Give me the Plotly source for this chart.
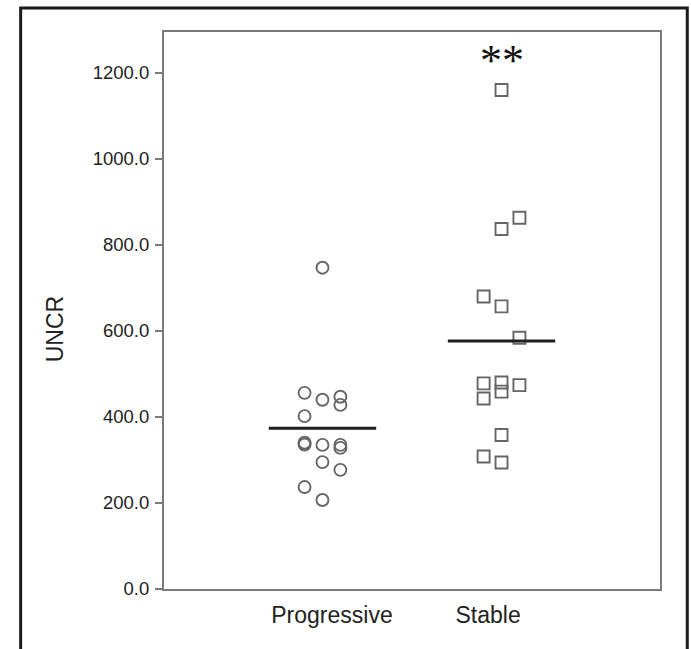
import numpy as np
import plotly.graph_objects as go

# Group labels
groups = ["Progressive", "Stable"]

# UNCR values per patient
progressive_uncr = [747, 456, 440, 447, 428, 402, 340, 336, 335, 335, 328, 295, 277, 237, 207]
stable_uncr = [1160, 837, 863, 680, 657, 584, 478, 480, 459, 474, 443, 358, 308, 294]

# Beeswarm column (-1 left, 0 centre, +1 right) for each point
progressive_slot = [0, -1, 0, 1, 1, -1, -1, -1, 0, 1, 1, 0, 1, -1, 0]
stable_slot = [0, 0, 1, -1, 0, 1, -1, 0, 0, 1, -1, 0, -1, 0]

SLOT_W = 0.1      # horizontal spread of one column, in group units
HALF_BAR = 0.30   # half-width of the mean bar

fig = go.Figure()

series = [
    (progressive_uncr, progressive_slot, "circle-open"),
    (stable_uncr, stable_slot, "square-open"),
]

for gi, (vals, slots, sym) in enumerate(series):
    centre = gi + 1
    xs = [centre + s * SLOT_W for s in slots]
    fig.add_trace(go.Scatter(
        x=xs, y=vals, mode="markers",
        marker=dict(symbol=sym, size=12, color="#666666",
                    line=dict(width=1.9, color="#666666")),
        showlegend=False, hoverinfo="y",
    ))
    m = float(np.mean(vals))
    fig.add_trace(go.Scatter(
        x=[centre - HALF_BAR, centre + HALF_BAR], y=[m, m], mode="lines",
        line=dict(color="#1e1e1e", width=3),
        showlegend=False, hoverinfo="skip",
    ))

fig.update_layout(
    width=691, height=649,
    margin=dict(l=164, r=31, t=32, b=60),
    paper_bgcolor="white", plot_bgcolor="white",
    font=dict(family="Liberation Sans, Arial, sans-serif", color="#222222"),
    xaxis=dict(
        range=[0.115, 2.885],
        tickvals=[1.053, 1.925], ticktext=groups,
        ticks="", showgrid=False, zeroline=False,
        showline=True, linecolor="#7a7a7a", linewidth=2, mirror=True,
        tickfont=dict(size=23), ticklabelstandoff=4,
    ),
    yaxis=dict(
        range=[0, 1295],
        tickvals=[0, 200, 400, 600, 800, 1000, 1200],
        tickformat=".1f",
        ticks="outside", ticklen=7, tickwidth=1.5, tickcolor="#7a7a7a",
        showgrid=False, zeroline=False,
        showline=True, linecolor="#7a7a7a", linewidth=2, mirror=True,
        tickfont=dict(size=18.5), ticklabelstandoff=2,
    ),
    shapes=[
        dict(type="rect", xref="paper", yref="paper",
             x0=-0.289, x1=1.055, y0=-0.12, y1=1.043,
             line=dict(color="#1a1a1a", width=3), fillcolor="rgba(0,0,0,0)"),
    ],
    annotations=[
        dict(text="UNCR", xref="paper", yref="paper", x=-0.218, y=0.466,
             textangle=-90, showarrow=False, xanchor="center", yanchor="middle",
             font=dict(size=23, color="#222222")),
        dict(text="**", xref="x", yref="y", x=2.0, y=1228,
             showarrow=False, xanchor="center", yanchor="middle",
             font=dict(family="Liberation Serif, Times New Roman, serif", size=44,
                       color="#111111")),
    ],
)

fig.write_html("out.html")
